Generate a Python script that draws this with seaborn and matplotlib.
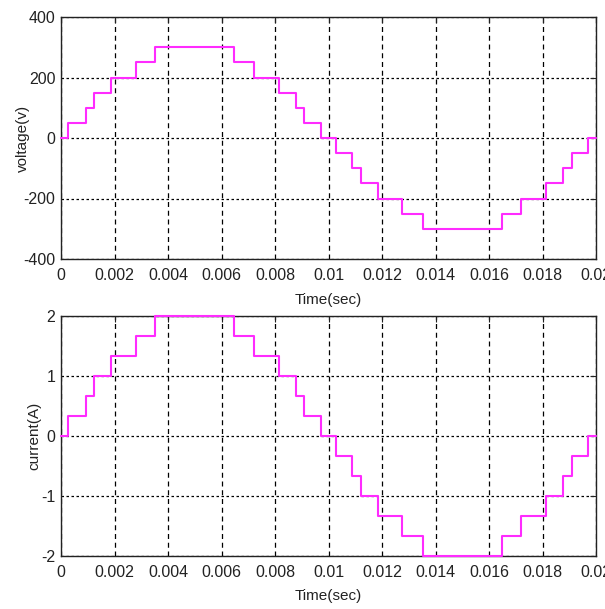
import matplotlib
matplotlib.use("Agg")
import matplotlib.pyplot as plt
from matplotlib import font_manager
import seaborn as sns
import pandas as pd

# ---- data ----
step_times = [0, 0.00027, 0.00092, 0.00122, 0.00186, 0.00279, 0.0035, 0.00648, 0.00723,
              0.00814, 0.00879, 0.00908, 0.00971, 0.01027, 0.01088, 0.0112, 0.01184,
              0.01276, 0.01352, 0.01649, 0.0172, 0.01812, 0.01877, 0.01909, 0.01971, 0.02]
voltage = [0, 50, 100, 150, 200, 250, 300, 250, 200, 150, 100, 50, 0, -50, -100, -150,
           -200, -250, -300, -250, -200, -150, -100, -50, 0, 0]
current = [0, 0.333, 0.667, 1, 1.333, 1.667, 2, 1.667, 1.333, 1, 0.667, 0.333, 0, -0.333,
           -0.667, -1, -1.333, -1.667, -2, -1.667, -1.333, -1, -0.667, -0.333, 0, 0]
x_ticks = [0, 0.002, 0.004, 0.006, 0.008, 0.01, 0.012, 0.014, 0.016, 0.018, 0.02]
x_ticklabels = ["0", "0.002", "0.004", "0.006", "0.008", "0.01", "0.012", "0.014",
                "0.016", "0.018", "0.02"]
v_ticks = [-400, -200, 0, 200, 400]
i_ticks = [-2, -1, 0, 1, 2]

sns.set_theme(style="white")
names = {f.name for f in font_manager.fontManager.ttflist}
if "Liberation Sans Narrow" in names:
    fam = "Liberation Sans Narrow"
    tick_fs = 13
else:
    fam = "Liberation Sans"
    tick_fs = 11.5
plt.rcParams["font.family"] = [fam, "DejaVu Sans"]
plt.rcParams["axes.unicode_minus"] = False

fig = plt.figure(figsize=(6.05, 6.09), dpi=100)
ax1 = fig.add_axes([61 / 605, 1 - 259 / 609, 535 / 605, 242 / 609])
ax2 = fig.add_axes([61 / 605, 1 - 556 / 609, 535 / 605, 240 / 609])

df = pd.DataFrame({"t": step_times, "v": voltage, "i": current})
mag = "#ff2bff"

specs = [(ax1, "v", (-400, 400), v_ticks, "voltage(v)", -0.058, -0.1405),
         (ax2, "i", (-2, 2), i_ticks, "current(A)", -0.036, -0.1375)]
for ax, col, ylim, yt, ylab, ylx, xly in specs:
    sns.lineplot(data=df, x="t", y=col, ax=ax, estimator=None, sort=False,
                 drawstyle="steps-post", color=mag, linewidth=1.5, zorder=4,
                 clip_on=False)
    ax.set_xlim(0, 0.02)
    ax.set_ylim(*ylim)
    ax.set_xticks(x_ticks)
    ax.set_xticklabels(x_ticklabels)
    ax.set_yticks(yt)
    ax.set_yticklabels([str(v) for v in yt])
    ax.tick_params(direction="in", length=4, width=0.8, colors="#222222",
                   labelsize=tick_fs, top=True, right=True)
    ax.tick_params(axis="x", pad=6.5)
    ax.tick_params(axis="y", pad=4)
    ax.xaxis.grid(True, color="black", linestyle=(0, (4, 3)), linewidth=0.9)
    ax.yaxis.grid(True, color="black", linestyle=(0, (2, 2)), linewidth=0.9)
    for s in ax.spines.values():
        s.set_color("#222222")
        s.set_linewidth(1.0)
    ax.set_xlabel("Time(sec)", fontsize=11, color="#222222")
    ax.set_ylabel(ylab, fontsize=11, color="#222222")
    ax.yaxis.set_label_coords(ylx, 0.5)
    ax.xaxis.set_label_coords(0.5, xly)

fig.savefig("out.png", dpi=100)
